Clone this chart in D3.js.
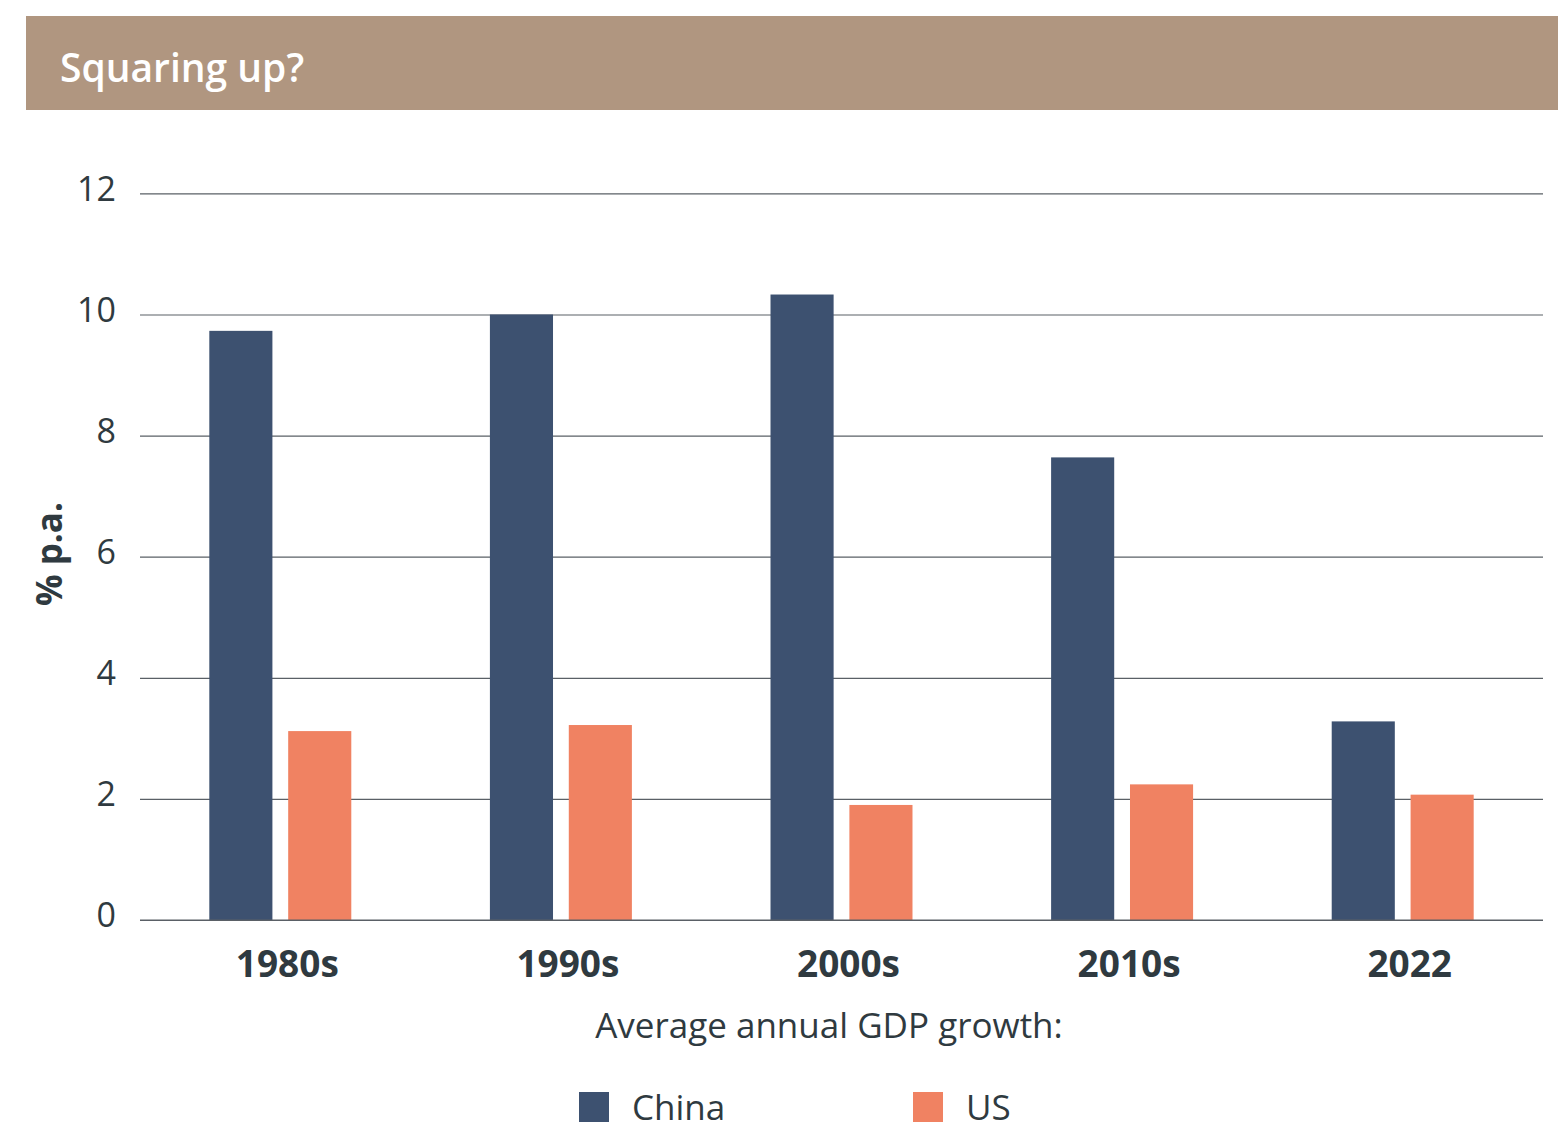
<!DOCTYPE html>
<html>
<head>
<meta charset="utf-8">
<script src="https://cdn.jsdelivr.net/npm/d3@7"></script>
<style>
  html, body { margin: 0; padding: 0; background: #ffffff; }
  svg { display: block; }
</style>
</head>
<body>
<svg id="chart" width="1563" height="1131"></svg>
<script>
const categories = ["1980s", "1990s", "2000s", "2010s", "2022"];
const seriesNames = ["China", "US"];
const chinaValues = [9.73, 10.0, 10.33, 7.64, 3.28];
const usValues = [3.12, 3.22, 1.9, 2.24, 2.07];
const yTicks = [0, 2, 4, 6, 8, 10, 12];
const titleText = "Squaring up?";
const yLabelText = "% p.a.";
const xTitleText = "Average annual GDP growth:";

const colors = { China: "#3d5170", US: "#f08262" };
const textColor = "#2f3a40";
const fontFamily = "'Open Sans', 'Noto Sans', sans-serif";

const data = categories.map((c, i) => ({ cat: c, China: chinaValues[i], US: usValues[i] }));

const svg = d3.select("#chart");

// Title banner
svg.append("rect").attr("x", 26).attr("y", 16).attr("width", 1532).attr("height", 94).attr("fill", "#b09680");
svg.append("text").attr("x", 60).attr("y", 82).text(titleText)
  .attr("fill", "#ffffff").attr("font-family", fontFamily).attr("font-weight", 600)
  .attr("font-size", 39);

const plotLeft = 140, plotRight = 1543, plotTop = 193.4, plotBottom = 920;

const x0 = d3.scaleBand().domain(categories).range([plotLeft, plotRight]).paddingInner(0.494).paddingOuter(0.247);
const x1 = d3.scaleBand().domain(seriesNames).range([0, x0.bandwidth()]).paddingInner(0.2).paddingOuter(0);
const y = d3.scaleLinear().domain([0, 12]).range([plotBottom, plotTop]);

// gridlines
const yAxis = d3.axisLeft(y).tickValues(yTicks).tickSize(-(plotRight - plotLeft)).tickPadding(24).tickFormat(d3.format("d"));
const gy = svg.append("g").attr("transform", `translate(${plotLeft},0)`).call(yAxis);
gy.select(".domain").remove();
gy.selectAll(".tick line").attr("stroke", "#5a6066").attr("stroke-width", 1.2);
gy.selectAll(".tick text").attr("fill", textColor).attr("font-family", fontFamily)
  .attr("font-size", 34).attr("dy", "0.2em");

// bars
const groups = svg.append("g").selectAll("g").data(data).join("g")
  .attr("transform", d => `translate(${x0(d.cat)},0)`);
groups.selectAll("rect").data(d => seriesNames.map(s => ({ s, v: d[s] }))).join("rect")
  .attr("x", d => x1(d.s)).attr("width", x1.bandwidth())
  .attr("y", d => y(d.v)).attr("height", d => y(0) - y(d.v))
  .attr("fill", d => colors[d.s]);

// baseline redraw over bars
svg.append("line").attr("x1", plotLeft).attr("x2", plotRight).attr("y1", y(0)).attr("y2", y(0))
  .attr("stroke", "#5a6066").attr("stroke-width", 1.2);

// x axis labels
const xAxis = d3.axisBottom(x0).tickSize(0).tickPadding(31);
const gx = svg.append("g").attr("transform", `translate(0,${plotBottom})`).call(xAxis);
gx.select(".domain").remove();
gx.selectAll(".tick text").attr("fill", textColor).attr("font-family", fontFamily)
  .attr("font-size", 37).attr("font-weight", 700).attr("dx", 7);

// x title
svg.append("text").attr("x", 829).attr("y", 1038).attr("text-anchor", "middle").text(xTitleText)
  .attr("fill", textColor).attr("font-family", fontFamily).attr("font-size", 35);

// y label
svg.append("text").attr("transform", "translate(62,554) rotate(-90)").attr("text-anchor", "middle")
  .text(yLabelText).attr("fill", textColor).attr("font-family", fontFamily)
  .attr("font-size", 35).attr("font-weight", 700);

// legend
const legendX = [579, 913];
const lg = svg.append("g").selectAll("g").data(seriesNames).join("g")
  .attr("transform", (d, i) => `translate(${legendX[i]},1092)`);
lg.append("rect").attr("width", 30).attr("height", 30).attr("fill", d => colors[d]);
lg.append("text").attr("x", 53).attr("y", 28).text(d => d)
  .attr("fill", textColor).attr("font-family", fontFamily).attr("font-size", 35);
</script>
</body>
</html>
